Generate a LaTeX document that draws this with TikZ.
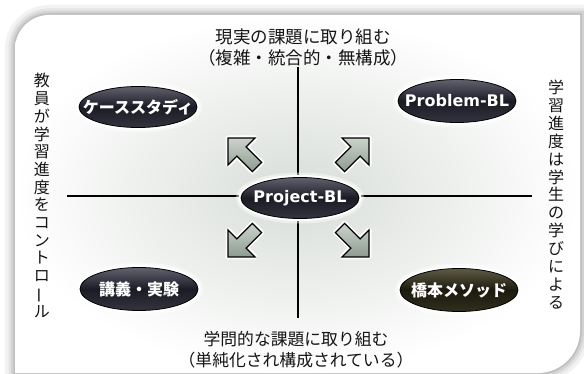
\documentclass[tikz,border=0pt]{standalone}
\usepackage{fontspec}
\usetikzlibrary{shapes.geometric}
\newfontfamily\jp{Noto Sans CJK JP}
\newfontfamily\vs{DejaVu Sans}
\definecolor{elA}{HTML}{62626F}
\definecolor{elB}{HTML}{1B1B26}
\definecolor{elC}{HTML}{34343F}
\definecolor{elD}{HTML}{5E5B46}
\definecolor{elE}{HTML}{1C1A0E}
\definecolor{elF}{HTML}{302E1E}
\definecolor{arA}{HTML}{CBD3CB}
\definecolor{arB}{HTML}{8E9C90}
\definecolor{pnl}{HTML}{D8DDD8}
\definecolor{ink}{HTML}{151515}
\newcommand\panelpath{(15,49) .. controls (15,30.3) and (30.3,15) .. (49,15) -- (580,15) -- (580,331) .. controls (580,354) and (561,373) .. (538,373) -- (15,373) -- cycle}
\newcommand\blkarrow{(0,0) -- (27,0) -- (18.1,8.9) -- (33.6,24.4) -- (24.4,33.6) -- (8.9,18.1) -- (0,27) -- cycle}
\tikzset{
  blob/.style={ellipse, draw=black, line width=0.8pt, inner sep=0pt,
    minimum width=118pt, minimum height=43pt,
    top color=elA, bottom color=elC, middle color=elB,
    preaction={draw=white, line width=10pt, opacity=0.45},
    preaction={draw=white, line width=5pt}},
  blobdark/.style={blob, top color=elD, bottom color=elF, middle color=elE},
  lbljp/.style={text=white, font=\jp\bfseries\fontsize{16}{18}\selectfont, inner sep=0pt},
  lblen/.style={text=white, font=\vs\bfseries\fontsize{16}{18}\selectfont, inner sep=0pt},
  blkarr/.style={draw=black, line width=1.3pt, line join=miter, top color=arA, bottom color=arB,
    preaction={draw=white, line width=5pt, line join=round}},
  axis/.style={draw=black, line width=1.3pt},
  hlabel/.style={text=ink, align=center, inner sep=0pt},
  vlabel/.style={text=ink, align=center, inner sep=0pt, font=\jp\fontsize{16}{17.7}\selectfont},
}
\begin{document}
\begin{tikzpicture}[x=1pt,y=-1pt]
\useasboundingbox (0,0) rectangle (584,374);
\fill[white] (0,0) rectangle (584,374);
% shadow
\draw[black, opacity=0.05, line width=20pt] \panelpath;
\draw[black, opacity=0.06, line width=13pt] \panelpath;
\draw[black, opacity=0.07, line width=8pt] \panelpath;
\draw[black, opacity=0.09, line width=3.5pt] \panelpath;
% panel
\shade[inner color=pnl, outer color=white] \panelpath;
% axes
\coordinate (vt) at (298,67);
\coordinate (vb) at (298,318);
\coordinate (hl) at (67,196);
\coordinate (hr) at (532,196);
\draw[axis] (vt) -- (vb);
\draw[axis] (hl) -- (hr);
% block arrows
\begin{scope}[shift={(228,138)}]
  \path[blkarr] \blkarrow;
\end{scope}
\begin{scope}[shift={(369,138)}, xscale=-1]
  \path[blkarr] \blkarrow;
\end{scope}
\begin{scope}[shift={(228,257)}, yscale=-1]
  \path[blkarr] \blkarrow;
\end{scope}
\begin{scope}[shift={(369,257)}, xscale=-1, yscale=-1]
  \path[blkarr] \blkarrow;
\end{scope}
% ellipses
\node[blob, minimum height=41pt] (pj) at (300,198) {};
\node[blob, minimum height=41pt] (cs) at (138,107) {};
\node[blob] (pb) at (457,101) {};
\node[blob] (lx) at (139,289) {};
\node[blobdark] (hm) at (459,290) {};
\node[lblen] (pjl) at (pj) {Project-BL};
\node[lbljp] (csl) at (cs) {ケーススタディ};
\node[lblen] (pbl) at (pb) {Problem-BL};
\node[lbljp] (lxl) at (lx) {講義・実験};
\node[lbljp] (hml) at (hm) {橋本メソッド};
% texts
\node[hlabel, font=\jp\fontsize{17.5}{21}\selectfont] (top) at (303,47) {現実の課題に取り組む\\（複雑・統合的・無構成）};
\node[hlabel, font=\jp\fontsize{16.8}{21}\selectfont] (bot) at (296,349.5) {学問的な課題に取り組む\\（単純化され構成されている）};
\node[vlabel] (lft) at (42,195.5) {教\\員\\が\\学\\習\\進\\度\\を\\コ\\ン\\ト\\ロ\\\rotatebox[origin=c]{90}{ー}\\ル};
\node[vlabel, font=\jp\fontsize{16}{17.9}\selectfont] (rgt) at (556,194.5) {学\\習\\進\\度\\は\\学\\生\\の\\学\\び\\に\\よ\\る};
\end{tikzpicture}
\end{document}
